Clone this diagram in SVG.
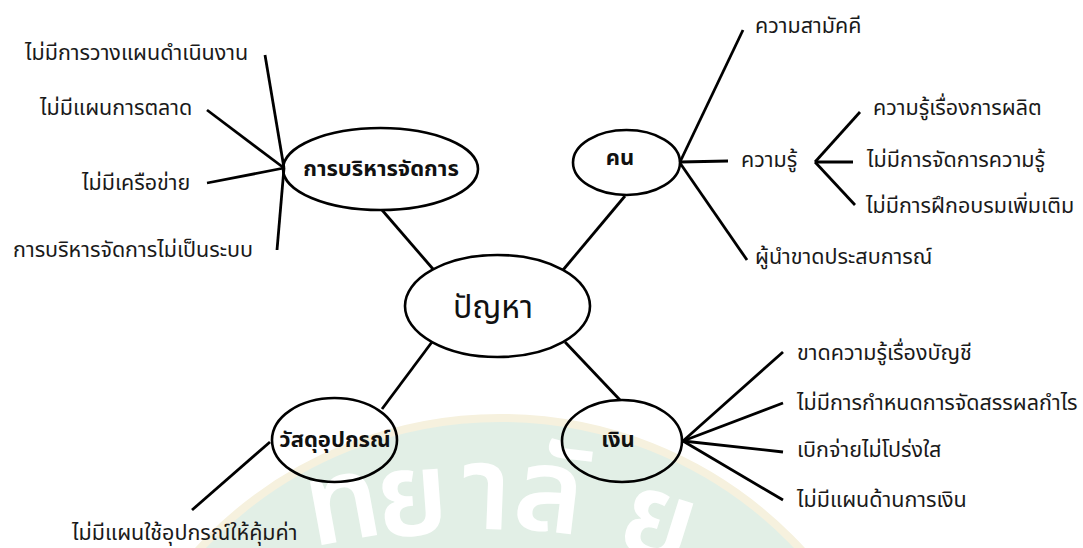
<svg xmlns="http://www.w3.org/2000/svg" width="1083" height="548" viewBox="0 0 1083 548">
<style>
.f{font-family:"Noto Sans Thai","Noto Sans Thai UI","Noto Looped Thai",Tahoma,"Noto Sans",sans-serif}
.lbl{font-size:21.5px;fill:#1a1a1a}
.nt{font-size:22px;font-weight:bold;fill:#111;text-anchor:middle}
.nd{fill:none;stroke:#000;stroke-width:2.6}
#connectors line{stroke:#000;stroke-width:2.8}
.wm{font-size:118px;font-weight:600;fill:#fff;text-anchor:middle}
</style>
<g id="watermark">
<circle cx="500" cy="828" r="410" fill="#e2efe6" stroke="#f6f1de" stroke-width="8"/>
<text class="f wm" transform="translate(349,540) rotate(-10.4)">ท</text>
<text class="f wm" transform="translate(415,535) rotate(-4.2)">ย</text>
<text class="f wm" transform="translate(485,529) rotate(2.2)">า</text>
<text class="f wm" transform="translate(545,531) rotate(6.8)">ลั</text>
<text class="f wm" transform="translate(648,557) rotate(17.3)">ย</text>
</g>
<g id="connectors">
<line x1="382" y1="210" x2="433" y2="269"/>
<line x1="625" y1="196" x2="563" y2="270"/>
<line x1="432" y1="342" x2="382" y2="409"/>
<line x1="565" y1="342" x2="620" y2="400"/>
<line x1="265" y1="55" x2="284" y2="168"/>
<line x1="207" y1="110" x2="284" y2="168"/>
<line x1="207" y1="183" x2="284" y2="168"/>
<line x1="277" y1="250" x2="284" y2="168"/>
<line x1="680" y1="162" x2="743" y2="30"/>
<line x1="680" y1="162" x2="728" y2="161"/>
<line x1="680" y1="163" x2="747" y2="260"/>
<line x1="815" y1="162" x2="860" y2="112"/>
<line x1="815" y1="162" x2="853" y2="162"/>
<line x1="815" y1="162" x2="855" y2="205"/>
<line x1="270" y1="442" x2="192" y2="510"/>
<line x1="683" y1="441" x2="783" y2="352"/>
<line x1="683" y1="441" x2="783" y2="403"/>
<line x1="683" y1="441" x2="783" y2="452"/>
<line x1="683" y1="441" x2="783" y2="500"/>
</g>
<g id="n-center"><ellipse class="nd" cx="497.5" cy="306" rx="92.5" ry="51"/><text class="f" x="493" y="318" font-size="32" fill="#111" text-anchor="middle">ปัญหา</text></g>
<g id="n-manage"><ellipse class="nd" cx="380.5" cy="169" rx="97.5" ry="41"/><text class="f nt" x="381" y="176" font-size="24">การบริหารจัดการ</text></g>
<g id="n-people"><ellipse class="nd" cx="626.5" cy="162.5" rx="53.5" ry="32.5"/><text class="f nt" x="620" y="165">คน</text></g>
<g id="n-material"><ellipse class="nd" cx="334.5" cy="440" rx="62.5" ry="42"/><text class="f nt" x="335" y="447">วัสดุอุปกรณ์</text></g>
<g id="n-money"><ellipse class="nd" cx="622" cy="441" rx="60" ry="41"/><text class="f nt" x="618" y="447">เงิน</text></g>
<g id="labels" class="f lbl">
<text x="25" y="60">ไม่มีการวางแผนดำเนินงาน</text>
<text x="40" y="115">ไม่มีแผนการตลาด</text>
<text x="82" y="190">ไม่มีเครือข่าย</text>
<text x="13" y="257">การบริหารจัดการไม่เป็นระบบ</text>
<text x="755" y="33">ความสามัคคี</text>
<text x="741" y="167">ความรู้</text>
<text x="873" y="115">ความรู้เรื่องการผลิต</text>
<text x="867" y="167">ไม่มีการจัดการความรู้</text>
<text x="866" y="213">ไม่มีการฝึกอบรมเพิ่มเติม</text>
<text x="755" y="264">ผู้นำขาดประสบการณ์</text>
<text x="797" y="360">ขาดความรู้เรื่องบัญชี</text>
<text x="797" y="410">ไม่มีการกำหนดการจัดสรรผลกำไร</text>
<text x="797" y="457">เบิกจ่ายไม่โปร่งใส</text>
<text x="797" y="507">ไม่มีแผนด้านการเงิน</text>
<text x="72" y="540">ไม่มีแผนใช้อุปกรณ์ให้คุ้มค่า</text>
</g>
</svg>
